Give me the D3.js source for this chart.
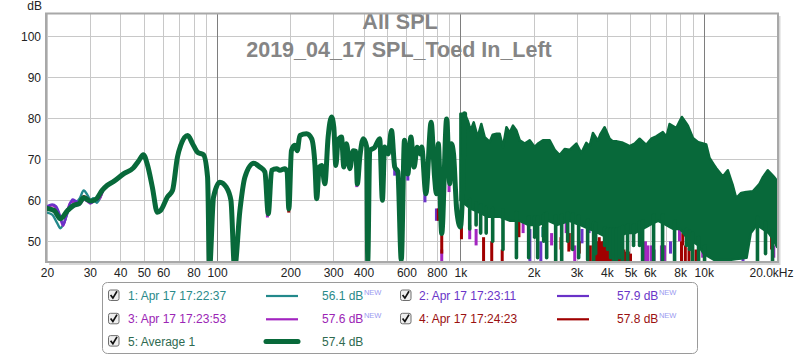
<!DOCTYPE html>
<html><head><meta charset="utf-8">
<script src="https://cdn.jsdelivr.net/npm/d3@7/dist/d3.min.js"></script>
<style>body{margin:0;background:#fff;overflow:hidden} text{font-family:"Liberation Sans",Arial,sans-serif;}</style>
</head><body><svg id="c" width="800" height="356"></svg>
<script>
// ---------- data ----------
const titleLines = ["All SPL", "2019_04_17 SPL_Toed In_Left"];
const yLabel = "dB";
const xTicks = [20,30,40,50,60,80,100,200,300,400,600,800,1000,2000,3000,4000,5000,6000,8000,10000,20000];
const xTickLabels = ["20","30","40","50","60","80","100","200","300","400","600","800","1k","2k","3k","4k","5k","6k","8k","10k","20.0kHz"];
const yTicks = [50,60,70,80,90,100];
const yTickLabels = ["50","60","70","80","90","100"];
const gridFreqs = [20,30,40,50,60,70,80,90,100,200,300,400,500,600,700,800,900,1000,2000,3000,4000,5000,6000,7000,8000,9000,10000];
const decadeFreqs = [100,1000,10000];

const seriesNames = ["1: Apr 17 17:22:37","2: Apr 17 17:23:11","3: Apr 17 17:23:53","4: Apr 17 17:24:23","5: Average 1"];
const seriesLevels = ["56.1 dB","57.9 dB","57.6 dB","57.8 dB","57.4 dB"];
const seriesNew = [true,true,true,true,false];

// Average 1 (Hz, dB) up to ~1 kHz
const avgCurve = [[20,58.0],[21.4,57.5],[22.7,55.5],[24.3,57.5],[25.8,58.8],[27.1,59.2],[28.3,60.6],[30.2,59.8],[32.0,60.4],[33.7,62.4],[35.3,63.6],[37.6,64.6],[41.4,66.5],[45.3,67.9],[47.5,69.5],[49.8,71.1],[51.6,68.9],[54.2,63.2],[56.8,57.1],[58.6,57.5],[62.5,60.8],[65.6,62.4],[68.7,70.5],[70.9,73.4],[75.7,75.8],[79.3,73.8],[83.1,71.7],[87.9,71.1],[91.4,65.6],[93.1,43.5],[96.7,60.8],[102.7,64.4],[109.1,63.2],[114.0,60],[118.0,43.5],[124.1,57.5],[130.1,65.6],[141.5,69],[149.9,68.1],[157.2,66.9],[162.3,56.7],[167.6,67.3],[175.6,67.7],[181.1,67.3],[189.8,67.7],[194.0,66.9],[197.2,57.9],[202.1,72.1],[208.5,73.4],[213.5,72.1],[218.8,75.8],[233.2,76.2],[244.7,75],[252.5,68.5],[256.6,60.4],[263.0,68.1],[269.3,68.5],[277.2,64],[286.0,75.4],[295.4,80.3],[301.8,77.8],[307.6,68.5],[314.4,74.6],[324.6,75.4],[331.8,68.1],[340.4,73.8],[351.1,67.7],[362.5,72.1],[372,71.9],[377,64],[386,70.5],[398.8,75],[412,73],[416,45],[424,72.1],[444.5,72.9],[466,75],[478,60],[488,73],[505,71.3],[521,77],[537,68.1],[553,67],[571.5,45.5],[589,74.6],[608,66.4],[626,75.4],[645,68.1],[664,72.9],[685,71.3],[693,73],[721,61.6],[758,79],[783,65.6],[797,61.6],[811,73.8],[838,51.9],[878,79.8],[904,64],[918,73.8],[937,71.3],[966,57.5],[1000,53.5],[1041,81.1]];

// Average 1 above 1 kHz: upper envelope, solid lower edge and deep notches of the comb
const avgDenseTop = [[1041,81.1],[1072,79.4],[1102,77],[1134,79],[1177,75.4],[1219,78.6],[1258,75.4],[1319,74.2],[1357,76],[1409,76.2],[1450,76.2],[1496,73],[1546,77.8],[1594,76.5],[1645,78.2],[1699,77],[1752,74.6],[1837,73.8],[1926,74.6],[2019,73],[2083,73.8],[2184,74.6],[2327,74.6],[2440,72.3],[2558,71],[2682,72.5],[2811,72.3],[2995,73.8],[3140,71.5],[3292,74],[3396,73.2],[3504,76.4],[3673,74.5],[3768,76.2],[3914,77.8],[4103,75],[4221,74.4],[4371,74.4],[4653,74],[4958,73.2],[5198,73.8],[5450,75],[5806,73.5],[6087,75],[6382,75.6],[6793,76.6],[7034,75.5],[7237,78.6],[7710,77.6],[8130,80.3],[8605,78.2],[9021,75.2],[9458,74.2],[10238,73.6],[10563,70.3],[11254,67.8],[11979,65.8],[12560,67.3],[13168,63.6],[13598,60.5],[14257,61.8],[14948,62],[15910,62.2],[16951,64],[17488,65.6],[18336,67.3],[19224,66],[20000,64.8]];
const avgDenseFloor = [[1000,60],[1100,58],[1200,57],[1300,56],[1450,56],[1600,55],[1750,55],[1900,54],[2100,54],[2300,55],[2500,54],[2800,55],[3100,54],[3400,53],[3700,52],[4000,51],[4400,51],[4800,52],[5200,52],[5600,53],[6000,54],[6500,55],[7000,54],[7500,53],[8000,53],[8500,51],[9000,50],[9500,49],[10000,47],[11000,45.5],[13000,45.5],[15000,46],[15600,52],[16500,54],[17500,53],[18500,52],[19500,50],[20000,48.6]];
const avgDenseNotches = [[1092,53],[1160,54],[1211,52],[1276,52],[1357,50],[1496,48],[1699,46],[1908,46],[2019,51],[2077,46],[2199,50],[2262,46],[2463,45],[2607,45],[2759,50],[2892,48],[3061,46],[3333,45.5],[3527,45],[3595,47],[3914,49],[4026,48],[4142,46],[4261,45],[4384,45.5],[4510,46],[4640,45],[4864,45],[5148,49],[5450,49],[5606,45],[6221,45],[6773,45],[7587,45],[8499,49],[8744,48],[8995,45],[9520,45],[10076,45],[16626,45],[17941,47],[19172,45]];

// Individual measurements where they differ from the average (low end)
const s1Low = [[20,57.0],[21,56.5],[22,54.5],[22.7,53.2],[23.5,54.5],[24.5,57.5],[25.8,59],[27.3,60.5],[28.3,62.4],[29.5,61],[30.2,60],[31,60.5],[32,59.4],[33,60.5],[34,62.4],[36,64]];
const s2Low = [[20,58.5],[21,59.0],[21.8,58.5],[22.7,56],[23.3,54],[24,56],[24.8,59],[25.5,60.2],[26.3,59.8],[27.3,59.3],[28.3,60.5],[29.5,60],[30.2,59.3],[31.5,60.2],[32.5,60.6],[34,62.4],[36,64]];
const s3Low = [[20,58.2],[21,58.8],[22,57.8],[22.7,55.5],[23.3,53.8],[24,56.5],[25,59.5],[26,59.7],[27.3,59],[28.3,60.2],[29.5,59.6],[30.2,59.2],[31.5,60],[33,60.5],[34,62.4],[36,64]];
const s4Low = [[20,58],[21,57.8],[22,56.5],[22.7,55.5],[23.5,56.5],[24.5,58],[25.8,59],[27.3,59.3],[28.3,61],[29.5,60.3],[30.2,59.6],[31.5,60.3],[33,60.8],[34,62.4],[36,64]];

// Individual measurements: notches reaching below the average (Hz, low dB, high dB)
const s1Dips = [[1580,60,63],[2180,51,53.5],[6850,44.5,49]];
const s2Dips = [[537,66,69],[608,64.8,67],[715,59.5,63],[797,55,58],[1930,44.5,53],[2040,55.5,58],[2140,44.5,50],[2430,55,57],[3160,49.5,53],[3380,52,55],[3620,46,50],[6500,56.5,58.5],[7300,47,50],[9400,44.5,47],[14500,44.5,46]];
const s3Dips = [[161,55.8,58],[375,63.2,65],[838,44.5,48],[898,62,65],[968,56,59],[1092,50.5,54],[1160,49,53],[1810,52,55],[2370,49,52],[2720,52,55],[2950,44.5,49],[4440,44.5,47.5],[5760,44.5,50],[5900,44.5,49],[6100,44.5,49],[6250,44.5,48],[6700,44.5,49],[6900,44.5,49],[7950,50,53],[9900,46,49],[19400,46,49]];
const s4Dips = [[197,57,59],[416,44,48],[571,44,47],[811,55,58],[838,47,52],[1010,50.5,54],[1245,45,51],[1345,44.5,50],[1485,44.5,48],[1740,51,55],[2590,48,51],[2790,47.5,52],[2870,48,52],[3080,47,50],[3420,44.5,49],[3560,45,51.5],[3640,45,50],[3720,45,51],[3800,45,50],[3880,45,50],[3960,45,51],[4050,45,50],[4130,45,50.5],[4220,45,51],[4300,45,50],[4400,45,49.5],[4500,45,49],[4600,45,48.5],[4700,45,48],[4800,45,47.5],[4900,45,47.5],[5000,45,47],[8100,45,50],[8200,49,52],[8400,45,49],[8700,45,48.5],[9000,45,48],[9300,45,48],[11700,46,49],[19000,48,51.5]];

const lineColors = ["#23898b","#6a32c8","#a224c0","#a00000","#08693a"];
const textColors = ["#2a8a8a","#6a35c8","#9b25b5","#9a1010","#2e6a50"];

// ---------- drawing ----------
const svg = d3.select("#c");
const L = 47, R = 777, T = 14, B = 261;
const x = d3.scaleLog().domain([20,20000]).range([L,R]);
const y = d3.scaleLinear().domain([45.2,105.4]).range([B,T]);

svg.append("rect").attr("width",800).attr("height",356).attr("fill","#fff");

// grid
const g = svg.append("g");
g.selectAll("line.h").data(yTicks).join("line").attr("class","h")
  .attr("x1",L).attr("x2",R).attr("y1",d=>Math.round(y(d))+0.5).attr("y2",d=>Math.round(y(d))+0.5)
  .attr("stroke","#c8c8c8").attr("stroke-width",1);
g.selectAll("line.v").data(gridFreqs).join("line").attr("class","v")
  .attr("x1",d=>Math.round(x(d))+0.5).attr("x2",d=>Math.round(x(d))+0.5).attr("y1",T).attr("y2",B)
  .attr("stroke",d=>decadeFreqs.includes(d)?"#7e7e7e":"#c8c8c8").attr("stroke-width",1);

// axes labels via d3 axes
const xAxis = d3.axisBottom(x).tickValues(xTicks).tickFormat((d,i)=>xTickLabels[i]).tickSize(0).tickPadding(0);
const xa = svg.append("g").attr("transform",`translate(0,${B+16})`).call(xAxis);
xa.select(".domain").remove();
xa.selectAll("text").attr("font-size",12).attr("fill","#222").attr("dy",0)
  .attr("font-family","Liberation Sans, Arial, sans-serif");
xa.selectAll(".tick").filter(d=>d===20000).select("text").attr("text-anchor","end").attr("x",16);

const yAxis = d3.axisLeft(y).tickValues(yTicks).tickFormat((d,i)=>yTickLabels[i]).tickSize(0).tickPadding(0);
const ya = svg.append("g").attr("transform",`translate(41,0)`).call(yAxis);
ya.select(".domain").remove();
ya.selectAll("text").attr("font-size",12).attr("fill","#222").attr("dy","0.36em")
  .attr("font-family","Liberation Sans, Arial, sans-serif");

svg.append("text").attr("x",42).attr("y",10).attr("text-anchor","end").attr("font-size",12).attr("fill","#222").text(yLabel);

// titles
svg.append("text").attr("x",400).attr("y",29).attr("text-anchor","middle").attr("font-size",21.5)
  .attr("font-weight","bold").attr("fill","#858585").text(titleLines[0]);
svg.append("text").attr("x",399).attr("y",57).attr("text-anchor","middle").attr("font-size",21.5)
  .attr("font-weight","bold").attr("fill","#858585").text(titleLines[1]);

// clip
svg.append("clipPath").attr("id","clip").append("rect").attr("x",L).attr("y",T).attr("width",R-L).attr("height",B-T+1);
const plot = svg.append("g").attr("clip-path","url(#clip)");

const smooth = d3.line().x(d=>x(d[0])).y(d=>y(d[1])).curve(d3.curveMonotoneX);
const straight = d3.line().x(d=>x(d[0])).y(d=>y(d[1]));

// individual measurements (low end)
[[s1Low,0],[s4Low,3],[s3Low,2],[s2Low,1]].forEach(([data,i])=>{
  plot.append("path").attr("d",smooth(data)).attr("fill","none").attr("stroke",lineColors[i])
    .attr("stroke-width",2.4).attr("stroke-linejoin","round").attr("stroke-linecap","round");
});
// notches of individual measurements
[[s1Dips,0],[s2Dips,1],[s3Dips,2],[s4Dips,3]].forEach(([data,i])=>{
  plot.append("g").selectAll("path").data(data).join("path")
    .attr("d",d=>straight([[d[0],d[1]],[d[0],d[2]]]))
    .attr("stroke",lineColors[i]).attr("stroke-width",3).attr("fill","none");
});

// average: dense comb region, drawn as an area between envelope and floor
const interp = (arr,f) => {
  const i = Math.min(arr.length-1, Math.max(1, d3.bisector(d=>d[0]).left(arr,f)));
  const a = arr[i-1], b = arr[i];
  if (f <= a[0]) return a[1];
  if (f >= b[0]) return b[1];
  const t = (Math.log(f)-Math.log(a[0]))/(Math.log(b[0])-Math.log(a[0]));
  return a[1] + t*(b[1]-a[1]);
};
const denseFreqs = Array.from(new Set(avgDenseTop.map(d=>d[0]).concat(avgDenseFloor.map(d=>d[0])))).sort((a,b)=>a-b);
const area = d3.area().x(f=>x(f)).y0(f=>y(interp(avgDenseFloor,f))).y1(f=>y(interp(avgDenseTop,f)));
plot.append("path").attr("d",area(denseFreqs)).attr("fill",lineColors[4])
  .attr("stroke",lineColors[4]).attr("stroke-width",2.5).attr("stroke-linejoin","round");
plot.append("g").selectAll("path").data(avgDenseNotches).join("path")
  .attr("d",d=>straight([[d[0],d[1]],[d[0],interp(avgDenseFloor,d[0])+2]]))
  .attr("stroke",lineColors[4]).attr("stroke-width",3.6).attr("stroke-linecap","round").attr("fill","none");
// average: line
plot.append("path").attr("d",smooth(avgCurve)).attr("fill","none").attr("stroke",lineColors[4])
  .attr("stroke-width",5).attr("stroke-linejoin","round").attr("stroke-linecap","round");

// frame
svg.append("line").attr("x1",R+2.5).attr("x2",R+2.5).attr("y1",T+2).attr("y2",B+4).attr("stroke","#d6d6d6").attr("stroke-width",2);
svg.append("line").attr("x1",L+2).attr("x2",R+3).attr("y1",B+3).attr("y2",B+3).attr("stroke","#d6d6d6").attr("stroke-width",2);
svg.append("rect").attr("x",L-1).attr("y",T-0.5).attr("width",R-L+2).attr("height",B-T+1.5)
  .attr("fill","none").attr("stroke","#a8a8a8").attr("stroke-width",2);

// legend
const lg = svg.append("g");
lg.append("rect").attr("x",102.5).attr("y",282.5).attr("width",595).attr("height",71).attr("rx",5)
  .attr("fill","#fff").attr("stroke","#9a9a9a");
const cols = [{cb:108,tx:128,l1:266,l2:298,v:322},{cb:400,tx:419,l1:557,l2:589,v:617}];
const rowsY = [295,318.3,340.6];
seriesNames.forEach((name,i)=>{
  const c = cols[i%2], cy = rowsY[Math.floor(i/2)];
  const bx = c.cb, by = cy-5.5;
  lg.append("rect").attr("x",bx+0.5).attr("y",by+0.5).attr("width",10.5).attr("height",10.5).attr("rx",2)
    .attr("fill","#eeeeee").attr("stroke","#6f6f6f");
  lg.append("path").attr("d",`M${bx+2.6},${by+5.6} L${bx+4.9},${by+8.6} L${bx+9},${by+1.8}`)
    .attr("fill","none").attr("stroke","#111").attr("stroke-width",1.7);
  lg.append("text").attr("x",c.tx).attr("y",cy+5).attr("font-size",12).attr("fill",textColors[i]).text(name);
  lg.append("line").attr("x1",c.l1).attr("x2",c.l2).attr("y1",cy+1).attr("y2",cy+1)
    .attr("stroke",lineColors[i]).attr("stroke-width",i===4?5:2.2).attr("stroke-linecap",i===4?"round":"butt");
  const vt = lg.append("text").attr("x",c.v).attr("y",cy+5).attr("font-size",12).attr("fill",textColors[i]).text(seriesLevels[i]);
  if (seriesNew[i]) {
    const w = vt.node().getComputedTextLength();
    lg.append("text").attr("x",c.v+w+0.5).attr("y",cy-0.5).attr("font-size",7.5).attr("fill","#9a9af0").text("NEW");
  }
});
</script></body></html>
